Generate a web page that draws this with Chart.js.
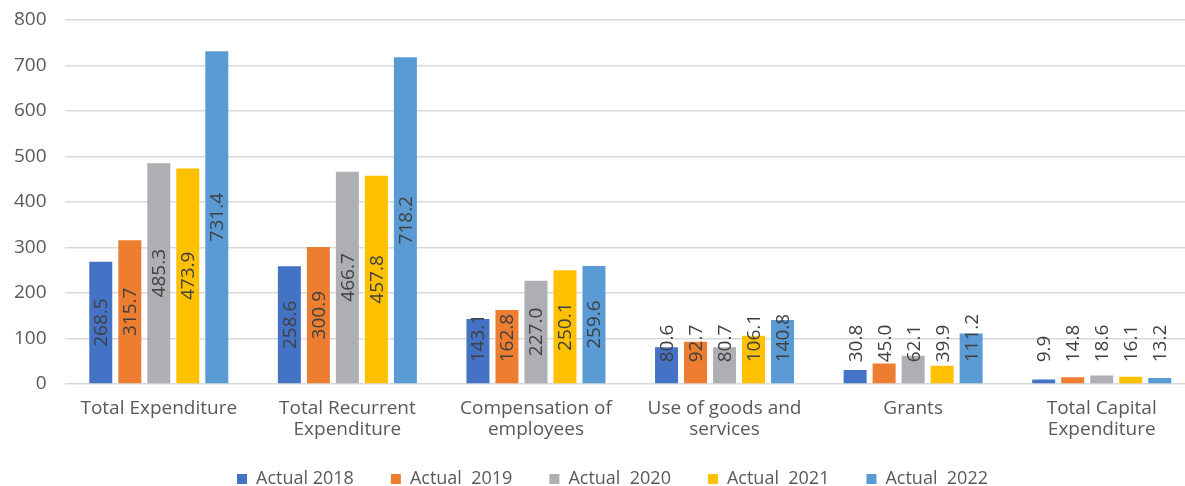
<!DOCTYPE html>
<html>
<head>
<meta charset="utf-8">
<script src="https://cdn.jsdelivr.net/npm/chart.js@4"></script>
<style>
  html, body { margin: 0; padding: 0; background: #fff; overflow: hidden; }
  #wrap { width: 1196px; height: 486px; }
</style>
</head>
<body>
<div id="wrap"><canvas id="chart" width="1196" height="486"></canvas></div>
<script>
const categories = [
  'Total Expenditure',
  ['Total Recurrent', 'Expenditure'],
  ['Compensation of', 'employees'],
  ['Use of goods and', 'services'],
  'Grants',
  ['Total Capital', 'Expenditure']
];
const seriesNames = ['Actual 2018', 'Actual  2019', 'Actual  2020', 'Actual  2021', 'Actual  2022'];
const actual2018 = [268.5, 258.6, 143.1, 80.6, 30.8, 9.9];
const actual2019 = [315.7, 300.9, 162.8, 92.7, 45.0, 14.8];
const actual2020 = [485.3, 466.7, 227.0, 80.7, 62.1, 18.6];
const actual2021 = [473.9, 457.8, 250.1, 106.1, 39.9, 16.1];
const actual2022 = [731.4, 718.2, 259.6, 140.8, 111.2, 13.2];
const yTicks = [0, 100, 200, 300, 400, 500, 600, 700, 800];

const colors = ['#4472C4', '#ED7D31', '#AEAFB3', '#FFC000', '#5B9BD5'];
const FONT = '"Open Sans", sans-serif';
const TEXT = '#595959';

// rotated value labels, centred on the bar but kept clear of the baseline
const barLabels = {
  id: 'barLabels',
  afterDatasetsDraw(chart) {
    const ctx = chart.ctx;
    ctx.save();
    ctx.font = '19px ' + FONT;
    ctx.fillStyle = '#404040';
    ctx.textAlign = 'left';
    ctx.textBaseline = 'middle';
    chart.data.datasets.forEach((ds, i) => {
      chart.getDatasetMeta(i).data.forEach((bar, j) => {
        const text = ds.data[j].toFixed(1);
        const len = ctx.measureText(text).width;
        const mid = (bar.y + bar.base) / 2;
        const bottom = Math.min(mid + len / 2, bar.base - 21);
        ctx.save();
        ctx.translate(bar.x, bottom);
        ctx.rotate(-Math.PI / 2);
        ctx.fillText(text, 0, 1);
        ctx.restore();
      });
    });
    ctx.restore();
  }
};

// compact legend strip along the bottom edge
const legendBox = {
  id: 'legendBox',
  afterInit(chart) {
    const fit = chart.legend.fit;
    chart.legend.fit = function () {
      fit.call(this);
      this.height = 43;
    };
  },
  afterLayout(chart) {
    const lg = chart.legend;
    lg.left += 14.5;
    lg.right += 14.5;
    lg.top = 433;
    lg.bottom = 486;
  }
};

new Chart(document.getElementById('chart'), {
  type: 'bar',
  data: {
    labels: categories,
    datasets: [actual2018, actual2019, actual2020, actual2021, actual2022].map((d, i) => ({
      label: seriesNames[i],
      data: d,
      backgroundColor: colors[i],
      categoryPercentage: 0.769,
      barPercentage: 0.793
    }))
  },
  options: {
    responsive: false,
    animation: false,
    layout: { padding: { top: 20, left: 0, right: 0, bottom: 0 } },
    scales: {
      x: {
        grid: { display: false },
        border: { display: false },
        ticks: {
          color: TEXT,
          font: { family: FONT, size: 19, lineHeight: 1.12 },
          padding: 6,
          maxRotation: 0,
          autoSkip: false
        },
        afterFit: scale => { scale.height = 59; }
      },
      y: {
        min: 0,
        max: 800,
        afterBuildTicks: scale => { scale.ticks = yTicks.map(v => ({ value: v })); },
        grid: { color: '#D9D9D9', lineWidth: 1.5, drawTicks: false },
        border: { display: false },
        ticks: {
          color: TEXT,
          font: { family: FONT, size: 19 },
          padding: 18
        },
        afterFit: scale => {
          scale.width = 64.5;
          scale.paddingTop = 0;
          scale.paddingBottom = 0;
        }
      }
    },
    plugins: {
      tooltip: { enabled: false },
      legend: {
        position: 'bottom',
        labels: {
          color: TEXT,
          font: { family: FONT, size: 18 },
          boxWidth: 10,
          boxHeight: 10,
          padding: 37
        }
      }
    }
  },
  plugins: [barLabels, legendBox]
});
</script>
</body>
</html>
